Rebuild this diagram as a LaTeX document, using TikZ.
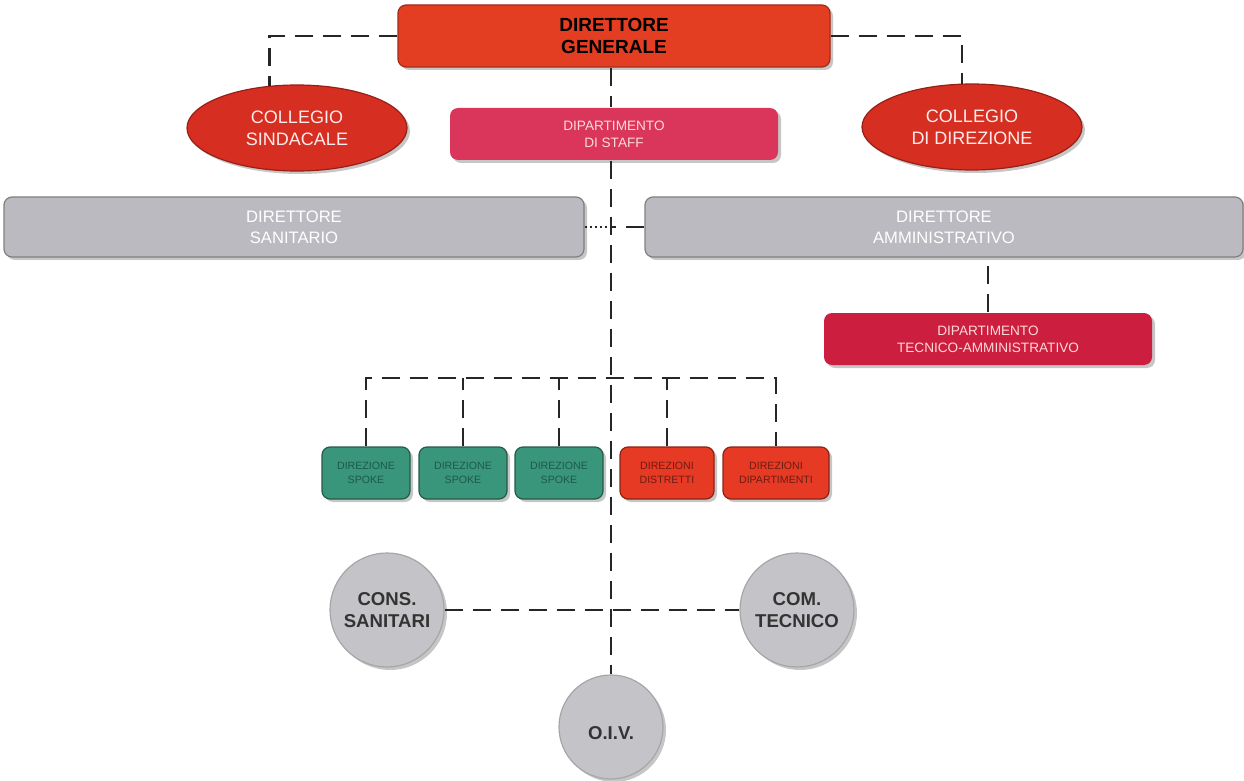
\documentclass[tikz,border=0pt]{standalone}
\usepackage{fontspec}
\setmainfont{Liberation Sans}
\usetikzlibrary{shapes.geometric,shadows,calc}

\definecolor{dgred}{RGB}{228,62,34}
\definecolor{boardred}{RGB}{214,46,32}
\definecolor{staffpink}{RGB}{218,54,92}
\definecolor{techred}{RGB}{204,30,62}
\definecolor{dirgray}{RGB}{186,186,192}
\definecolor{spokegreen}{RGB}{58,150,122}
\definecolor{spoketext}{RGB}{28,88,78}
\definecolor{unitred}{RGB}{230,58,36}
\definecolor{unittext}{RGB}{110,28,18}
\definecolor{roundgray}{RGB}{196,196,200}

\begin{document}
\begin{tikzpicture}[x=0.5pt, y=-0.5pt, semithick]
        \tikzstyle{shade}=[drop shadow={opacity=0.45, shadow xshift=1.5pt, shadow yshift=-1.5pt}]
        \tikzstyle{chief}=[rectangle, rounded corners=4pt, fill=dgred, draw=dgred!70!black, shade, align=center, text=black, font=\fontsize{9.5}{11}\selectfont\bfseries, minimum width=216pt, minimum height=31pt]
        \tikzstyle{board}=[ellipse, fill=boardred, draw=boardred!70!black, shade, align=center, text=red!8, font=\fontsize{9}{11}\selectfont, minimum width=110pt, minimum height=43pt]
        \tikzstyle{dept}=[rectangle, rounded corners=4pt, fill=staffpink, shade, align=center, text=pink!60, font=\fontsize{6.8}{8.5}\selectfont, minimum width=164pt, minimum height=26pt]
        \tikzstyle{director}=[rectangle, rounded corners=4pt, fill=dirgray, draw=gray, shade, align=center, text=white, font=\fontsize{8.3}{10.5}\selectfont, minimum height=30pt]
        \tikzstyle{spoke}=[rectangle, rounded corners=4pt, fill=spokegreen, draw=spokegreen!60!black, shade, align=center, text=spoketext, font=\fontsize{5.3}{6.8}\selectfont, minimum width=44pt, minimum height=26pt, inner sep=1pt]
        \tikzstyle{unit}=[spoke, fill=unitred, draw=unitred!60!black, text=unittext, minimum width=47pt]
        \tikzstyle{council}=[circle, fill=roundgray, draw=gray!70, shade, align=center, text=black!80, font=\fontsize{9.3}{11}\selectfont\bfseries, minimum size=57pt, inner sep=0pt]
        \tikzstyle{link}=[draw=black!85, line width=1.3pt, dash pattern=on 9pt off 5pt]

        \useasboundingbox (0,0) rectangle (1244,781);

        \node[chief]    (dg)    at (614,36)     {DIRETTORE\\GENERALE};
        \node[board]    (cs)    at (297,128)    {COLLEGIO\\SINDACALE};
        \node[board]    (cd)    at (972,127)    {COLLEGIO\\DI DIREZIONE};
        \node[dept]     (staff) at (614,134)    {DIPARTIMENTO\\DI STAFF};
        \node[director, minimum width=290pt] (ds) at (294,227) {DIRETTORE\\SANITARIO};
        \node[director, minimum width=299pt] (da) at (944,227) {DIRETTORE\\AMMINISTRATIVO};
        \node[dept, fill=techred] (dta) at (988,339) {DIPARTIMENTO\\TECNICO-AMMINISTRATIVO};

        \node[spoke]    (sp1)   at (366,473)    {DIREZIONE\\SPOKE};
        \node[spoke]    (sp2)   at (463,473)    {DIREZIONE\\SPOKE};
        \node[spoke]    (sp3)   at (559,473)    {DIREZIONE\\SPOKE};
        \node[unit]     (dis)   at (667,473)    {DIREZIONI\\DISTRETTI};
        \node[unit, minimum width=53pt] (dip) at (776,473) {DIREZIONI\\DIPARTIMENTI};

        \node[council]  (cons)  at (387,610)    {CONS.\\SANITARI};
        \node[council]  (com)   at (797,610)    {COM.\\TECNICO};
        \node[council, minimum size=52pt] (oiv) at (611,727) {\mbox{}\\[2pt]O.I.V.};

        \coordinate (bus) at (611,378);

        \draw[link] (dg.west) -| (cs.123);
        \draw[link] (dg.east) -| (cd.103);
        \draw[link] (oiv.north |- dg.south) -- (oiv.north |- staff.north);
        \draw[link] (oiv.north |- staff.south) -- (oiv.north);
        \draw[link, dash pattern=on 1pt off 1.6pt] (ds.east) -- (ds.east -| oiv.north);
        \draw[link] (da.west) -- (ds.east -| oiv.north);
        \draw[link] (dta.north) -- (dta.north |- da.south);
        \draw[link] (sp1.north) |- (dip.north |- bus) -- (dip.north);
        \foreach \n in {sp2,sp3,dis}
            \draw[link] (\n.north) -- (\n.north |- bus);
        \draw[link] (cons.east) -- (com.west);
    \end{tikzpicture}
\end{document}
